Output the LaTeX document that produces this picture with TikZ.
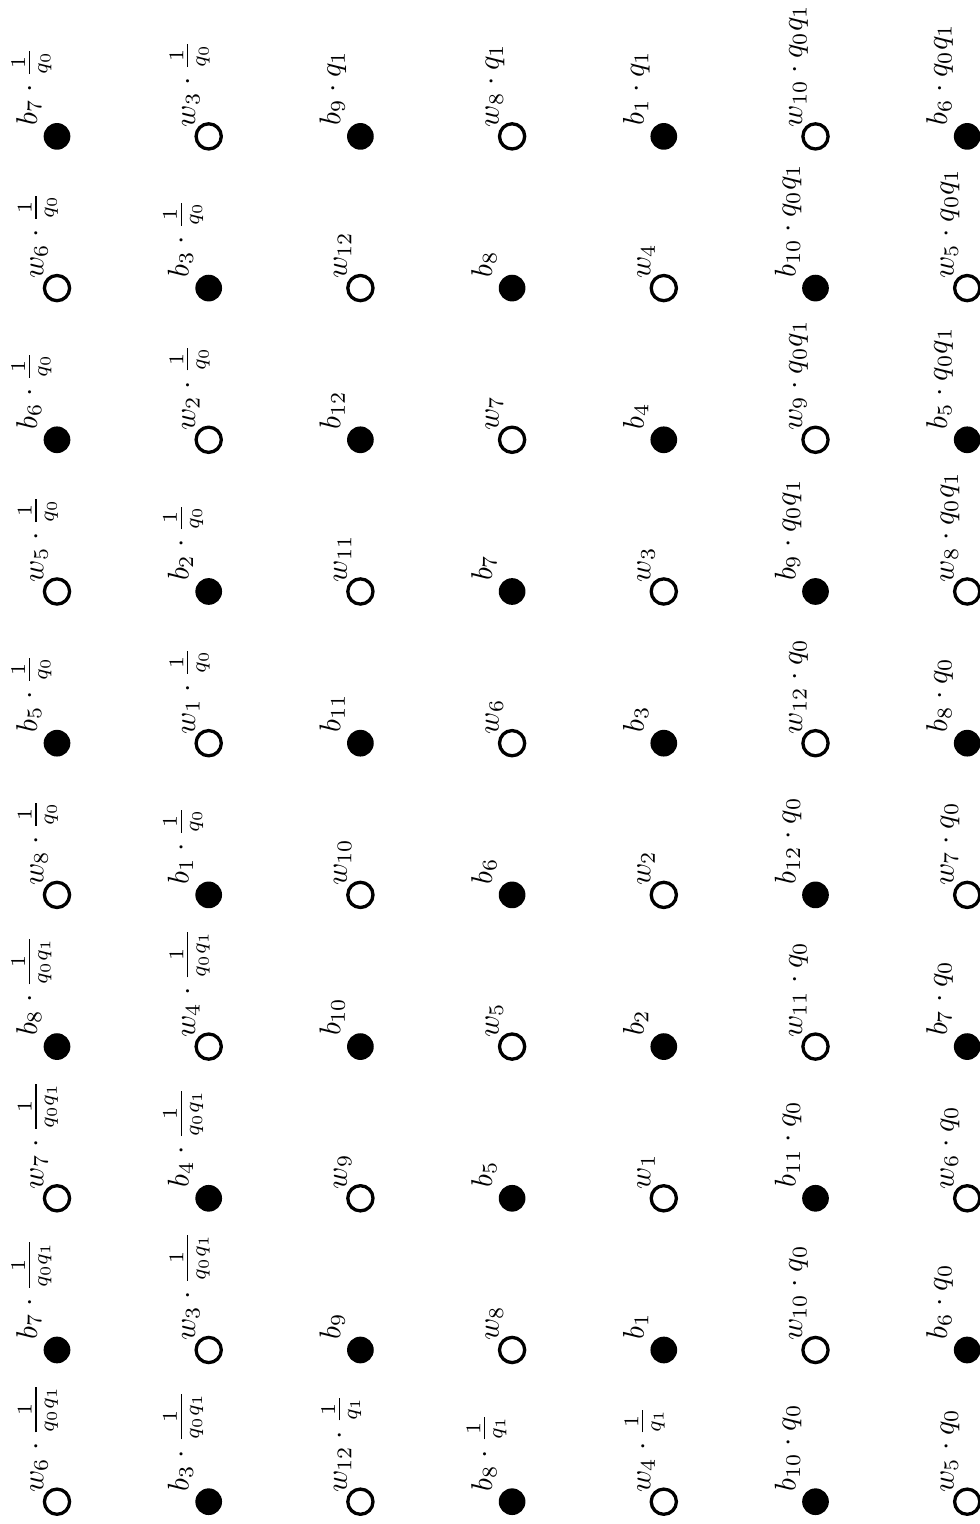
\documentclass[tikz,border=0pt]{standalone}
\usepackage{amsmath,amssymb}
\usepackage{tikz}

\begin{document}
\begin{tikzpicture}[
    x=0.3333pt, y=0.3333pt,
    wdot/.style={circle, draw, line width=1.1pt, fill=white, minimum size=8.4pt, inner sep=0pt},
    bdot/.style={circle, fill=black, minimum size=8.9pt, inner sep=0pt},
    wlbl/.style={rotate=90, inner sep=0pt, anchor=base west},
    blbl/.style={rotate=90, inner sep=0pt, anchor=base west},
  ]
  \useasboundingbox (0,0) rectangle (980,1524);
  % one entry per column, labels from bottom to top
  \foreach \labs [count=\i] in {%
      {{w_6\cdot\frac{1}{q_0q_1}}, {b_7\cdot\frac{1}{q_0q_1}}, {w_7\cdot\frac{1}{q_0q_1}}, {b_8\cdot\frac{1}{q_0q_1}}, {w_8\cdot\frac{1}{q_0}}, {b_5\cdot\frac{1}{q_0}}, {w_5\cdot\frac{1}{q_0}}, {b_6\cdot\frac{1}{q_0}}, {w_6\cdot\frac{1}{q_0}}, {b_7\cdot\frac{1}{q_0}}},
      {{b_3\cdot\frac{1}{q_0q_1}}, {w_3\cdot\frac{1}{q_0q_1}}, {b_4\cdot\frac{1}{q_0q_1}}, {w_4\cdot\frac{1}{q_0q_1}}, {b_1\cdot\frac{1}{q_0}}, {w_1\cdot\frac{1}{q_0}}, {b_2\cdot\frac{1}{q_0}}, {w_2\cdot\frac{1}{q_0}}, {b_3\cdot\frac{1}{q_0}}, {w_3\cdot\frac{1}{q_0}}},
      {{w_{12}\cdot\frac{1}{q_1}}, {b_9}, {w_9}, {b_{10}}, {w_{10}}, {b_{11}}, {w_{11}}, {b_{12}}, {w_{12}}, {b_9\cdot q_1}},
      {{b_8\cdot\frac{1}{q_1}}, {w_8}, {b_5}, {w_5}, {b_6}, {w_6}, {b_7}, {w_7}, {b_8}, {w_8\cdot q_1}},
      {{w_4\cdot\frac{1}{q_1}}, {b_1}, {w_1}, {b_2}, {w_2}, {b_3}, {w_3}, {b_4}, {w_4}, {b_1\cdot q_1}},
      {{b_{10}\cdot q_0}, {w_{10}\cdot q_0}, {b_{11}\cdot q_0}, {w_{11}\cdot q_0}, {b_{12}\cdot q_0}, {w_{12}\cdot q_0}, {b_9\cdot q_0q_1}, {w_9\cdot q_0q_1}, {b_{10}\cdot q_0q_1}, {w_{10}\cdot q_0q_1}},
      {{w_5\cdot q_0}, {b_6\cdot q_0}, {w_6\cdot q_0}, {b_7\cdot q_0}, {w_7\cdot q_0}, {b_8\cdot q_0}, {w_8\cdot q_0q_1}, {b_5\cdot q_0q_1}, {w_5\cdot q_0q_1}, {b_6\cdot q_0q_1}}}{%
    \foreach \lab [count=\j] in \labs {
      \pgfmathtruncatemacro{\odd}{mod(\i+\j,2)}
      \pgfmathsetmacro{\xx}{57+151.7*(\i-1)}
      \pgfmathsetmacro{\yy}{22.3+151.7*(\j-1)}
      \ifnum\odd=0
        \node[wdot] (n-\i-\j) at (\xx,\yy) {};
        \node[wlbl] (l-\i-\j) at ([shift={(-13.5,8.5)}]n-\i-\j.center) {$\lab$};
      \else
        \node[bdot] (n-\i-\j) at (\xx,\yy) {};
        \node[blbl] (l-\i-\j) at ([shift={(-20,10)}]n-\i-\j.center) {$\lab$};
      \fi
    }
  }
\end{tikzpicture}
\end{document}
